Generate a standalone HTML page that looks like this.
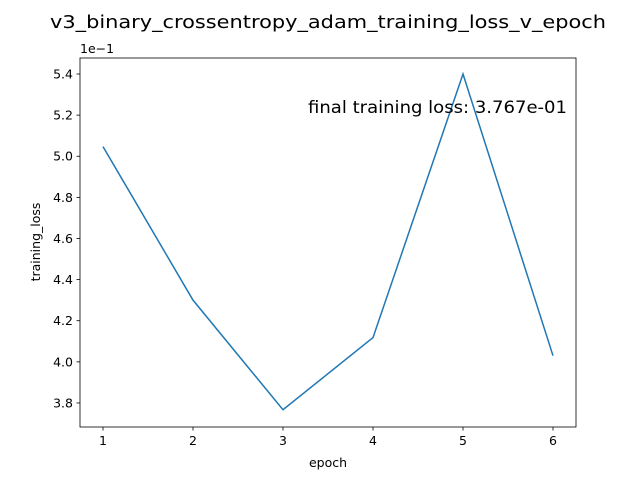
<!DOCTYPE html>
<html><head><meta charset="utf-8"><style>
body{margin:0;background:#fff;}
svg{display:block;font-family:"DejaVu Sans","Liberation Sans",sans-serif;}
</style></head><body>
<svg id="chart" width="640" height="480">
<text x="50" y="28" font-size="18" textLength="556" lengthAdjust="spacingAndGlyphs">v3_binary_crossentropy_adam_training_loss_v_epoch</text>
<g id="plot"></g>
</svg>
<script>
const epochs=[1,2,3,4,5,6];
const losses=[5.047,4.300,3.767,4.118,5.400,4.030];
const yTicks=[3.8,4.0,4.2,4.4,4.6,4.8,5.0,5.2,5.4];
const xTicks=[1,2,3,4,5,6];
const L=80,R=576,T=58,B=427;
const xs=v=>103+(v-1)*90;
const ys=v=>74+(5.4-v)*205.6;
const ns="http://www.w3.org/2000/svg";
const g=document.getElementById('plot');
function mk(t,a,txt){const e=document.createElementNS(ns,t);for(const k in a)e.setAttribute(k,a[k]);if(txt!==undefined)e.textContent=txt;g.appendChild(e);return e;}
let e;
e=mk('rect',{x:L,y:T,width:R-L,height:B-T,fill:'none',stroke:'#000','stroke-width':0.8});


xTicks.forEach(t=>{
 e=mk('line',{x1:xs(t),x2:xs(t),y1:B,y2:B+3.5,stroke:'#000','stroke-width':0.8});
 
 
 e=mk('text',{x:xs(t),y:B+18,'font-size':12.5,'text-anchor':'middle'},String(t));
 
 
});
yTicks.forEach(t=>{
 e=mk('line',{x1:L-3.5,x2:L,y1:ys(t),y2:ys(t),stroke:'#000','stroke-width':0.8});
 
 
 e=mk('text',{x:L-7,y:ys(t)+4.5,'font-size':12.5,'text-anchor':'end'},t.toFixed(1));
 
 
});
e=mk('text',{x:L,y:T-5,'font-size':12.5},'1e\u22121');


e=mk('text',{x:328,y:467,'font-size':12.5,'text-anchor':'middle'},'epoch');


e=mk('text',{x:40,y:242,'font-size':12.5,'text-anchor':'middle',transform:'rotate(-90 40 242)'},'training_loss');


e=mk('polyline',{points:epochs.map((x,i)=>xs(x)+','+ys(losses[i])).join(' '),fill:'none',stroke:'#1f77b4','stroke-width':1.5});


e=mk('text',{x:308,y:113,'font-size':17,textLength:259,lengthAdjust:'spacingAndGlyphs'},'final training loss: 3.767e-01');


</script>
</body></html>
